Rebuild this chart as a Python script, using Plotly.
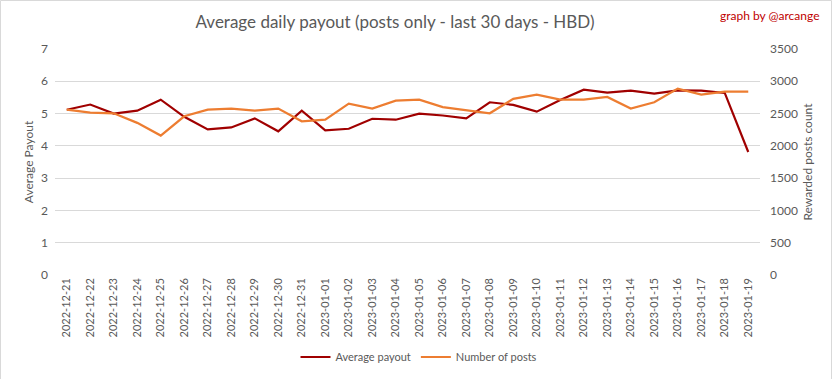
import plotly.graph_objects as go

dates = ["2022-12-21","2022-12-22","2022-12-23","2022-12-24","2022-12-25","2022-12-26","2022-12-27",
         "2022-12-28","2022-12-29","2022-12-30","2022-12-31","2023-01-01","2023-01-02","2023-01-03",
         "2023-01-04","2023-01-05","2023-01-06","2023-01-07","2023-01-08","2023-01-09","2023-01-10",
         "2023-01-11","2023-01-12","2023-01-13","2023-01-14","2023-01-15","2023-01-16","2023-01-17",
         "2023-01-18","2023-01-19"]
avg_payout = [5.12, 5.28, 5.00, 5.09, 5.43, 4.90, 4.51, 4.57, 4.85, 4.45, 5.09, 4.48, 4.53, 4.84,
              4.81, 5.00, 4.94, 4.85, 5.35, 5.27, 5.06, 5.42, 5.74, 5.65, 5.71, 5.62, 5.72, 5.71,
              5.64, 3.81]
num_posts = [2562, 2515, 2504, 2356, 2159, 2458, 2562, 2577, 2546, 2577, 2381, 2407, 2655, 2577,
             2701, 2716, 2600, 2551, 2504, 2727, 2794, 2716, 2716, 2758, 2577, 2675, 2887, 2794,
             2840, 2840]

FONT = "Lato"
GRAY = "#595959"

L, R, T, B = 55, 73, 49, 104
W, H = 833, 379
pw = W - L - R
ph = H - T - B

fig = go.Figure()
fig.add_trace(go.Scatter(x=dates, y=avg_payout, name="Average payout", mode="lines",
                         line=dict(color="#A00000", width=2.2), yaxis="y"))
fig.add_trace(go.Scatter(x=dates, y=num_posts, name="Number of posts", mode="lines",
                         line=dict(color="#ED7D31", width=2.2), yaxis="y2"))

fig.update_layout(
    width=W, height=H,
    margin=dict(l=L, r=R, t=T, b=B, autoexpand=False),
    paper_bgcolor="white", plot_bgcolor="white",
    font=dict(family=FONT, color=GRAY, size=11),
    title=dict(text="Average daily payout (posts only - last 30 days - HBD)",
               x=395 / W, xanchor="center", y=1 - 22 / H, yanchor="middle",
               font=dict(size=17, color=GRAY, family=FONT)),
    xaxis=dict(type="category", tickangle=-90, showgrid=False, showline=False, automargin=False,
               ticks="", tickfont=dict(size=11, color=GRAY), range=[-0.5, 29.5]),
    yaxis=dict(range=[0, 7], dtick=1, gridcolor="#d9d9d9", gridwidth=1, zeroline=False,
               showline=False, ticks="", automargin=False, tickfont=dict(size=12, color=GRAY),
               ticklabelstandoff=6,
               title=dict(text="Average Payout", font=dict(size=12, color=GRAY), standoff=4)),
    yaxis2=dict(range=[0, 3500], dtick=500, overlaying="y", side="right", showgrid=False,
                zeroline=False, showline=False, ticks="", automargin=False,
                tickfont=dict(size=12, color=GRAY), ticklabelstandoff=9,
                title=dict(text="Rewarded posts count", font=dict(size=12, color=GRAY), standoff=6)),
    legend=dict(orientation="h", x=(419 - L) / pw, xanchor="center", y=(H - B - 357) / ph,
                yanchor="middle", font=dict(size=11, color=GRAY)),
    annotations=[dict(text="graph by @arcange", xref="paper", yref="paper",
                      x=(822 - L) / pw, xanchor="right", y=(H - B - 15) / ph, yanchor="middle",
                      showarrow=False, font=dict(size=12, color="#C00000", family=FONT))],
    shapes=[dict(type="rect", xref="paper", yref="paper",
                 x0=(0.5 - L) / pw, x1=(831.5 - L) / pw,
                 y0=(B - 378.5) / ph, y1=(H - B - 0.5) / ph,
                 line=dict(color="#d9d9d9", width=1))],
)

fig.write_html("out.html", config={"displayModeBar": False},
               post_script="document.body.style.margin='0';")
